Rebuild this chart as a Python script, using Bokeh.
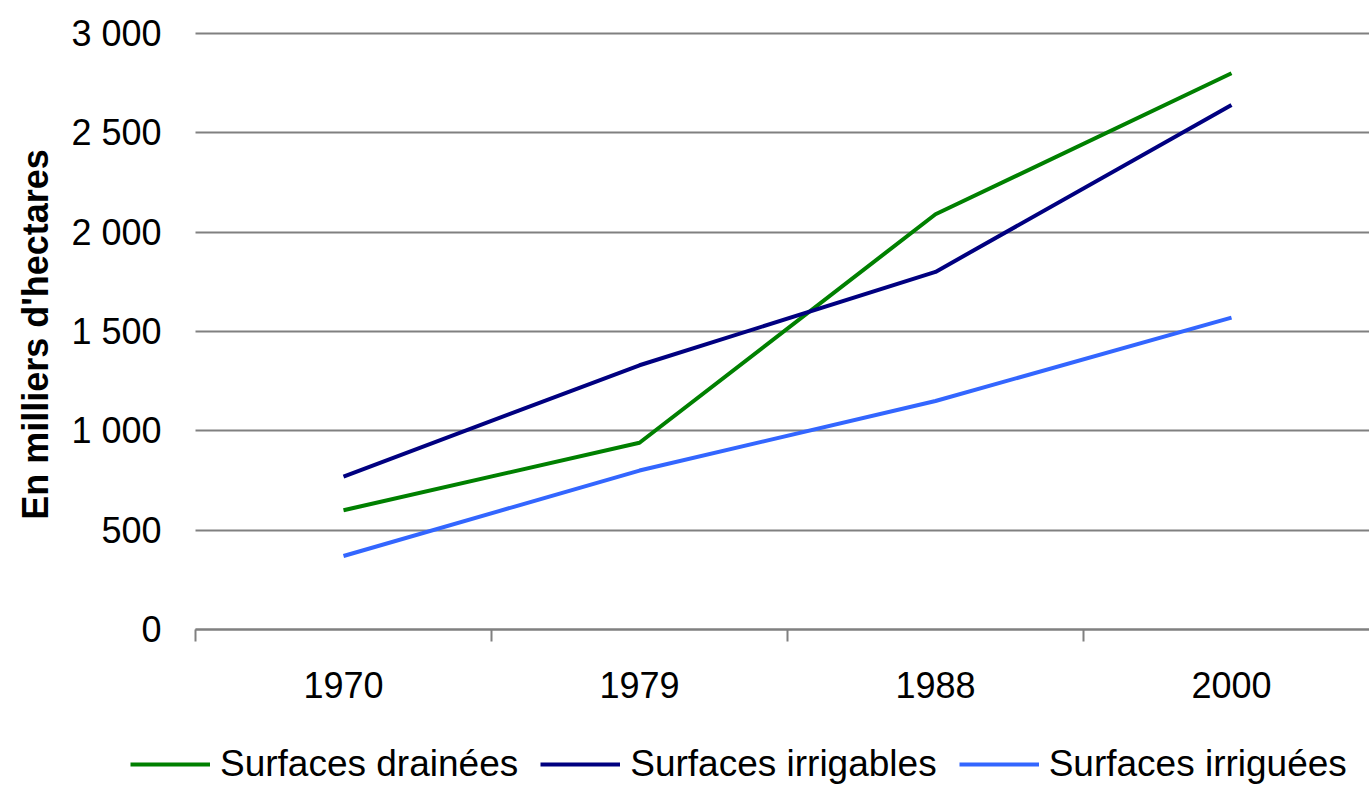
import math
from bokeh.plotting import figure
from bokeh.models import Range1d, FixedTicker, Legend, LegendItem, Label
from bokeh.embed import file_html
from bokeh.resources import INLINE

years = ["1970", "1979", "1988", "2000"]
drainees = [600, 940, 2090, 2800]
irrigables = [770, 1330, 1800, 2640]
irriguees = [370, 800, 1150, 1570]
y_ticks = [0, 500, 1000, 1500, 2000, 2500, 3000]
y_labels = ["0", "500", "1 000", "1 500", "2 000", "2 500", "3 000"]

FONT = "Liberation Sans"
x = [i + 0.5 for i in range(len(years))]

# layout constants (pixels)
W, H = 1369, 786
AXIS_PX = 195
CAT_PX = 296
Y0_PX, Y3000_PX = 629, 33
scale = (Y0_PX - Y3000_PX) / 3000.0
y_start = -(H - Y0_PX) / scale
y_end = 3000 + Y3000_PX / scale
x_start = -AXIS_PX / CAT_PX
x_end = (W - AXIS_PX) / CAT_PX

p = figure(width=W, height=H, output_backend="svg", toolbar_location=None,
           x_range=Range1d(x_start, x_end), y_range=Range1d(y_start, y_end),
           min_border_left=0, min_border_right=0, min_border_top=0,
           min_border_bottom=0)
p.outline_line_color = None
p.background_fill_color = "white"

r1 = p.line(x, drainees, line_color="#008000", line_width=4)
r2 = p.line(x, irrigables, line_color="#000080", line_width=4)
r3 = p.line(x, irriguees, line_color="#3366FF", line_width=4)

# x axis, drawn at y = 0 inside the frame
xa = p.xaxis[0]
xa.fixed_location = 0
xa.bounds = (0, x_end)
xa.ticker = FixedTicker(ticks=x, minor_ticks=list(range(len(years))))
xa.major_label_overrides = {xv: y for xv, y in zip(x, years)}
xa.major_tick_out = 0
xa.major_tick_in = 0
xa.minor_tick_out = 12
xa.minor_tick_in = 0
xa.minor_tick_line_color = "#808080"
xa.minor_tick_line_width = 2
xa.axis_line_color = "#808080"
xa.axis_line_width = 2
xa.major_label_text_font = FONT
xa.major_label_text_font_size = "36px"
xa.major_label_text_color = "black"
xa.major_label_standoff = 30
p.xgrid.grid_line_color = None

# y axis, drawn at x = 0 inside the frame
ya = p.yaxis[0]
ya.fixed_location = 0
ya.bounds = (0, 3000)
ya.ticker = FixedTicker(ticks=y_ticks)
ya.major_label_overrides = {t: l for t, l in zip(y_ticks, y_labels)}
ya.axis_line_color = None
ya.major_tick_line_color = None
ya.minor_tick_line_color = None
ya.major_label_text_font = FONT
ya.major_label_text_font_size = "36px"
ya.major_label_text_color = "black"
ya.major_label_standoff = 28
p.ygrid.grid_line_color = "#808080"
p.ygrid.grid_line_width = 2
p.ygrid.cross_bounds = (0, x_end)

title = Label(x=x_start + 35 / CAT_PX, y=1485, text="En milliers d'hectares",
              angle=math.pi / 2, text_align="center", text_baseline="middle",
              text_font=FONT, text_font_size="36px", text_font_style="bold",
              text_color="black")
p.add_layout(title)

legend = Legend(items=[LegendItem(label="Surfaces drainées", renderers=[r1]),
                       LegendItem(label="Surfaces irrigables", renderers=[r2]),
                       LegendItem(label="Surfaces irriguées", renderers=[r3])],
                orientation="horizontal", location=(130, 1),
                label_text_font=FONT, label_text_font_size="37px",
                label_text_color="black", glyph_width=80, glyph_height=20,
                label_standoff=10, spacing=22, padding=0, margin=0,
                border_line_color=None, background_fill_alpha=0)
p.add_layout(legend, "center")

open("out.html", "w").write(file_html(p, INLINE))
